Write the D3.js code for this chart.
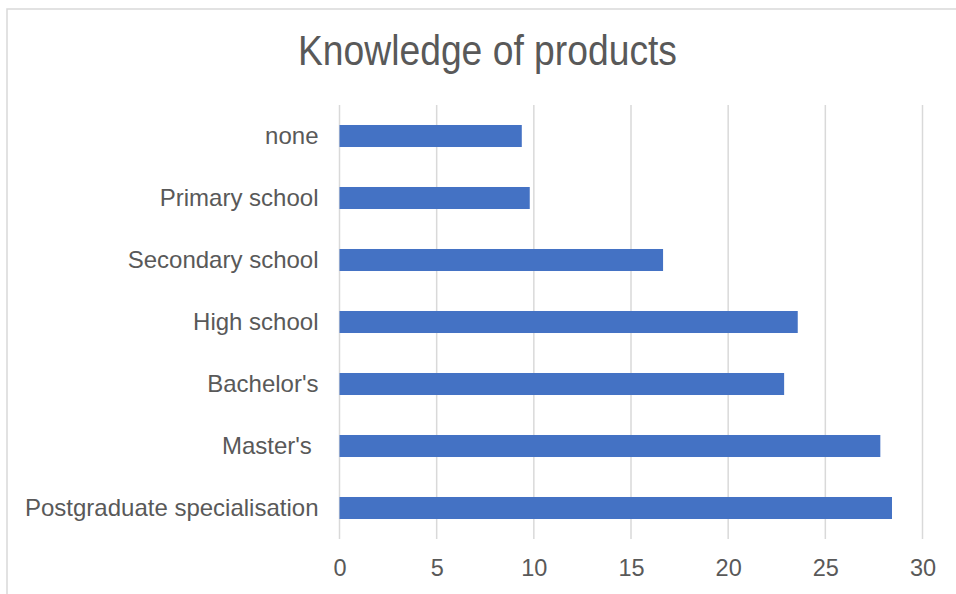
<!DOCTYPE html>
<html>
<head>
<meta charset="utf-8">
<script src="https://cdn.jsdelivr.net/npm/d3@7"></script>
<style>
  html, body { margin: 0; padding: 0; background: #ffffff; }
  svg { display: block; }
  text { font-family: "Liberation Sans", Arial, Helvetica, sans-serif; fill: #595959; }
</style>
</head>
<body>
<svg id="chart" width="956" height="594"></svg>
<script>
// Education levels (top to bottom) and their product-knowledge scores
const categories = ["none", "Primary school", "Secondary school", "High school", "Bachelor's", "Master's ", "Postgraduate specialisation"];
const values = [9.38, 9.79, 16.65, 23.58, 22.88, 27.83, 28.43];
const xTicks = [0, 5, 10, 15, 20, 25, 30];
const title = "Knowledge of products";

const W = 956, H = 594;
const plot = { left: 339.5, right: 922.5, top: 105, bottom: 539 };

const svg = d3.select("#chart");

// chart-area frame (runs off the right and bottom edges)
svg.append("rect")
  .attr("x", 7).attr("y", 9)
  .attr("width", W + 20).attr("height", H + 20)
  .attr("fill", "#ffffff")
  .attr("stroke", "#d9d9d9")
  .attr("stroke-width", 1.5);

const x = d3.scaleLinear().domain([0, 30]).range([plot.left, plot.right]);
const y = d3.scaleBand()
  .domain(categories)
  .range([plot.top, plot.bottom])
  .paddingInner(0.645)
  .paddingOuter(0.3225);

// vertical gridlines
svg.append("g")
  .selectAll("line")
  .data(xTicks)
  .join("line")
  .attr("x1", d => x(d)).attr("x2", d => x(d))
  .attr("y1", plot.top).attr("y2", plot.bottom)
  .attr("stroke", "#d9d9d9")
  .attr("stroke-width", 1.5);

// bars
svg.append("g")
  .selectAll("rect")
  .data(categories)
  .join("rect")
  .attr("x", x(0))
  .attr("y", d => y(d))
  .attr("width", (d, i) => x(values[i]) - x(0))
  .attr("height", y.bandwidth())
  .attr("fill", "#4472c4");

// x axis tick labels
const xAxis = d3.axisBottom(x).tickValues(xTicks).tickSize(0).tickPadding(0);
const gx = svg.append("g")
  .attr("transform", `translate(0,${plot.bottom})`)
  .call(xAxis);
gx.select(".domain").remove();
gx.selectAll("text")
  .attr("y", 37)
  .attr("dy", null)
  .style("font-size", "23.5px")
  .style("fill", "#595959");

// category labels
const yAxis = d3.axisLeft(y).tickSize(0).tickPadding(0);
const gy = svg.append("g")
  .attr("transform", `translate(${plot.left - 21},0)`)
  .call(yAxis);
gy.select(".domain").remove();
gy.selectAll("text")
  .attr("dy", "0.35em")
  .style("font-size", "24px")
  .style("white-space", "pre")
  .style("fill", "#595959");

// title
svg.append("text")
  .attr("x", 487.5)
  .attr("y", 65)
  .attr("text-anchor", "middle")
  .attr("textLength", 379)
  .attr("lengthAdjust", "spacingAndGlyphs")
  .style("font-size", "42px")
  .text(title);
</script>
</body>
</html>
